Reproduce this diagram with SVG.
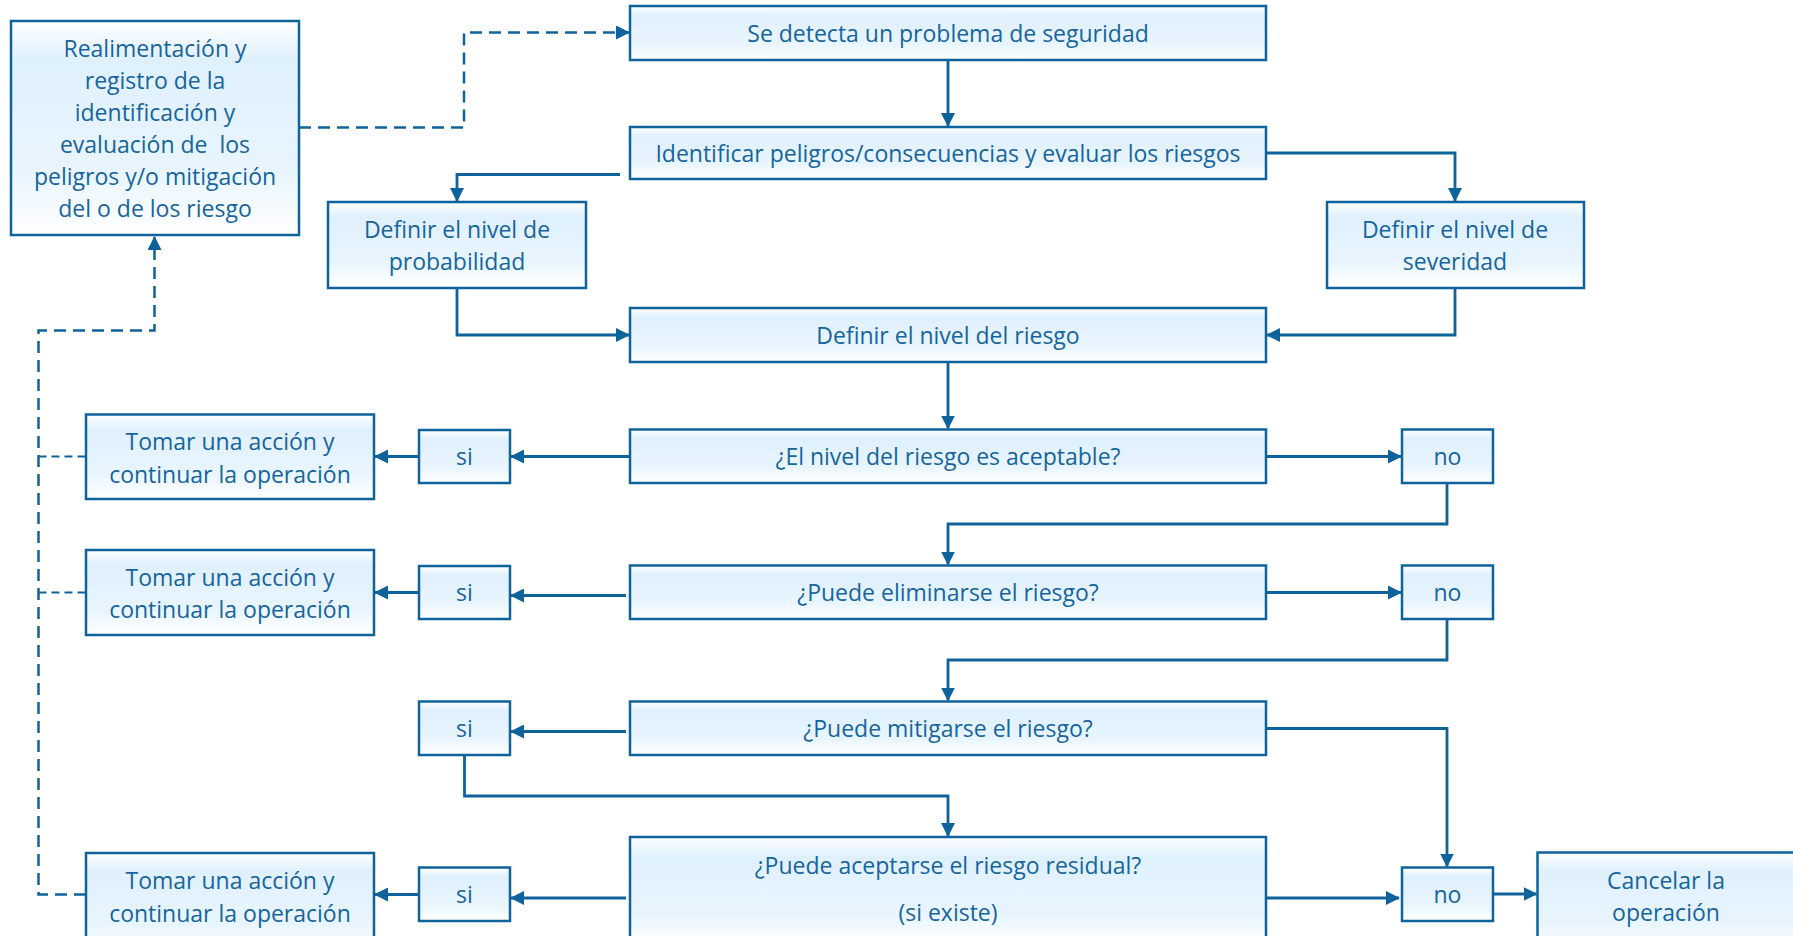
<svg xmlns="http://www.w3.org/2000/svg" width="1793" height="936" viewBox="0 0 1793 936">
<style>
.box{fill:url(#g);stroke:#0f639c;stroke-width:2.5}
.t{font-family:"Open Sans","Liberation Sans",sans-serif;font-size:23px;fill:#17659c;text-anchor:middle;dominant-baseline:central;white-space:pre}
.c{fill:none;stroke:#0f639c;stroke-width:2.8}
.d{fill:none;stroke:#0f639c;stroke-width:2.5;stroke-dasharray:12 7}
.d2{fill:none;stroke:#0f639c;stroke-width:1.8;stroke-dasharray:8 5}
</style>
<defs>
<linearGradient id="g" x1="0" y1="0" x2="0" y2="1">
<stop offset="0" stop-color="#ffffff"/>
<stop offset="0.18" stop-color="#dff0fd"/>
<stop offset="0.7" stop-color="#e8f5fe"/>
<stop offset="1" stop-color="#ffffff"/>
</linearGradient>
<marker id="a" markerUnits="userSpaceOnUse" markerWidth="14" markerHeight="14" viewBox="0 0 14 14" refX="13" refY="7" orient="auto">
<path d="M0,0 L14,7 L0,14 Z" fill="#0f639c"/>
</marker>
</defs>
<g id="connectors">
<path class="c" d="M948,60 V126" marker-end="url(#a)"/>
<path class="c" d="M1266,153 H1455 V201" marker-end="url(#a)"/>
<path class="c" d="M620,174.5 H457 V201" marker-end="url(#a)"/>
<path class="c" d="M457,288 V335 H629" marker-end="url(#a)"/>
<path class="c" d="M1455,288 V335 H1267" marker-end="url(#a)"/>
<path class="c" d="M948,362 V428.5" marker-end="url(#a)"/>
<path class="c" d="M630,456.5 H511" marker-end="url(#a)"/>
<path class="c" d="M419,456.5 H375" marker-end="url(#a)"/>
<path class="c" d="M1266,456.5 H1401" marker-end="url(#a)"/>
<path class="c" d="M1447,483 V524 H948 V564.5" marker-end="url(#a)"/>
<path class="c" d="M626,595.5 H511" marker-end="url(#a)"/>
<path class="c" d="M419,592.5 H375" marker-end="url(#a)"/>
<path class="c" d="M1266,592.5 H1401" marker-end="url(#a)"/>
<path class="c" d="M1447,619 V660 H948 V700.5" marker-end="url(#a)"/>
<path class="c" d="M626,731.5 H511" marker-end="url(#a)"/>
<path class="c" d="M464.5,755 V796 H948 V836" marker-end="url(#a)"/>
<path class="c" d="M1266,728.5 H1447 V866.5" marker-end="url(#a)"/>
<path class="c" d="M626,898 H511" marker-end="url(#a)"/>
<path class="c" d="M419,894.5 H375" marker-end="url(#a)"/>
<path class="c" d="M1266,898 H1399" marker-end="url(#a)"/>
<path class="c" d="M1493,894 H1536.5" marker-end="url(#a)"/>
<path class="d" d="M299,127.5 H464 V32.5 H629" marker-end="url(#a)"/>
<path class="d" d="M86,894.5 H38.5 V330.5 H154.5 V237" marker-end="url(#a)"/>
<path class="d2" d="M38.5,456.5 H86"/>
<path class="d2" d="M38.5,592.5 H86"/>
</g>
<g id="n-feedback">
<rect class="box" x="11" y="21" width="288" height="214"/>
<text class="t" x="155" y="48">Realimentación y</text>
<text class="t" x="155" y="80">registro de la</text>
<text class="t" x="155" y="112">identificación y</text>
<text class="t" x="155" y="144">evaluación de  los</text>
<text class="t" x="155" y="176">peligros y/o mitigación</text>
<text class="t" x="155" y="208">del o de los riesgo</text>
</g>
<g id="n-detecta">
<rect class="box" x="630" y="6" width="636" height="54"/>
<text class="t" x="948" y="33">Se detecta un problema de seguridad</text>
</g>
<g id="n-identificar">
<rect class="box" x="630" y="127" width="636" height="52"/>
<text class="t" x="948" y="153">Identificar peligros/consecuencias y evaluar los riesgos</text>
</g>
<g id="n-probabilidad">
<rect class="box" x="328" y="202" width="258" height="86"/>
<text class="t" x="457" y="229">Definir el nivel de</text>
<text class="t" x="457" y="261">probabilidad</text>
</g>
<g id="n-severidad">
<rect class="box" x="1327" y="202" width="257" height="86"/>
<text class="t" x="1455" y="229">Definir el nivel de</text>
<text class="t" x="1455" y="261">severidad</text>
</g>
<g id="n-nivel">
<rect class="box" x="630" y="308" width="636" height="54"/>
<text class="t" x="948" y="335">Definir el nivel del riesgo</text>
</g>
<g id="n-aceptable">
<rect class="box" x="630" y="429.5" width="636" height="53.5"/>
<text class="t" x="948" y="456">¿El nivel del riesgo es aceptable?</text>
</g>
<g id="n-si1">
<rect class="box" x="419" y="430" width="91" height="53"/>
<text class="t" x="464.5" y="456">si</text>
</g>
<g id="n-no1">
<rect class="box" x="1402" y="429.5" width="91" height="53.5"/>
<text class="t" x="1447.5" y="456">no</text>
</g>
<g id="n-tomar1">
<rect class="box" x="86" y="414.5" width="288" height="84.5"/>
<text class="t" x="230" y="441">Tomar una acción y</text>
<text class="t" x="230" y="473.5">continuar la operación</text>
</g>
<g id="n-eliminarse">
<rect class="box" x="630" y="565.5" width="636" height="53.5"/>
<text class="t" x="948" y="592">¿Puede eliminarse el riesgo?</text>
</g>
<g id="n-si2">
<rect class="box" x="419" y="566" width="91" height="53"/>
<text class="t" x="464.5" y="592">si</text>
</g>
<g id="n-no2">
<rect class="box" x="1402" y="565.5" width="91" height="53.5"/>
<text class="t" x="1447.5" y="592">no</text>
</g>
<g id="n-tomar2">
<rect class="box" x="86" y="550" width="288" height="85"/>
<text class="t" x="230" y="577">Tomar una acción y</text>
<text class="t" x="230" y="609">continuar la operación</text>
</g>
<g id="n-mitigarse">
<rect class="box" x="630" y="701.5" width="636" height="53.5"/>
<text class="t" x="948" y="728">¿Puede mitigarse el riesgo?</text>
</g>
<g id="n-si3">
<rect class="box" x="419" y="701.5" width="91" height="53.5"/>
<text class="t" x="464.5" y="728">si</text>
</g>
<g id="n-residual">
<rect class="box" x="630" y="837" width="636" height="110"/>
<text class="t" x="948" y="865">¿Puede aceptarse el riesgo residual?</text>
<text class="t" x="948" y="912">(si existe)</text>
</g>
<g id="n-si4">
<rect class="box" x="419" y="867.5" width="91" height="53.5"/>
<text class="t" x="464.5" y="894">si</text>
</g>
<g id="n-no3">
<rect class="box" x="1402" y="867.5" width="91" height="53.5"/>
<text class="t" x="1447.5" y="894">no</text>
</g>
<g id="n-tomar3">
<rect class="box" x="86" y="853" width="288" height="100"/>
<text class="t" x="230" y="880">Tomar una acción y</text>
<text class="t" x="230" y="912.5">continuar la operación</text>
</g>
<g id="n-cancelar">
<rect class="box" x="1537.5" y="852.5" width="270" height="100"/>
<text class="t" x="1666" y="880">Cancelar la</text>
<text class="t" x="1666" y="912">operación</text>
</g>
</svg>
